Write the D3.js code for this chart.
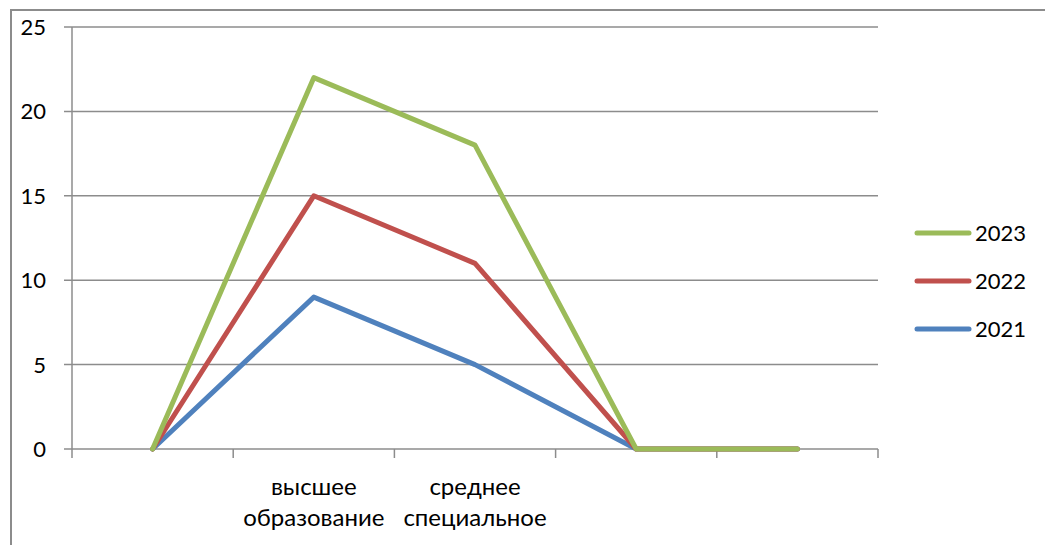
<!DOCTYPE html>
<html>
<head>
<meta charset="utf-8">
<script src="https://d3js.org/d3.v7.min.js"></script>
<style>
  body { margin: 0; background: #fff; }
  text { font-family: Lato, "Open Sans", sans-serif; fill: #000; }
</style>
</head>
<body>
<div id="chart"></div>
<script>
// categories along x (some are empty in the source)
const categories = ["", "высшее образование", "среднее специальное", " ", "  "];
// stacked line series (Excel style), bottom to top
const years = ["2021", "2022", "2023"];
const v2021 = [0, 9, 5, 0, 0];
const v2022 = [0, 6, 6, 0, 0];
const v2023 = [0, 7, 7, 0, 0];
const yTicks = [0, 5, 10, 15, 20, 25];
const colors = { "2021": "#4F81BD", "2022": "#C0504D", "2023": "#9BBB59" };

const W = 1045, H = 545;
const margin = { top: 27, right: 167, bottom: 96, left: 72 };
const width = W - margin.left - margin.right,
      height = H - margin.top - margin.bottom;

const rows = categories.map((c, i) => ({ cat: c, "2021": v2021[i], "2022": v2022[i], "2023": v2023[i] }));
const stacked = d3.stack().keys(years)(rows);

const svg = d3.select("#chart").append("svg")
  .attr("width", W).attr("height", H);

// outer chart frame
svg.append("rect")
  .attr("x", 11).attr("y", 10)
  .attr("width", W + 10).attr("height", H + 10)
  .attr("fill", "none").attr("stroke", "#8c8c8c").attr("stroke-width", 2);

const g = svg.append("g")
  .attr("transform", "translate(" + margin.left + "," + margin.top + ")");

const x = d3.scaleBand().domain(d3.range(categories.length)).range([0, width]);
const y = d3.scaleLinear().domain([0, 25]).range([height, 0]);

// horizontal gridlines + left ticks
g.append("g").selectAll("line")
  .data(yTicks.filter(d => d > 0))
  .enter().append("line")
  .attr("x1", -8).attr("x2", width)
  .attr("y1", d => y(d)).attr("y2", d => y(d))
  .attr("stroke", "#8c8c8c").attr("stroke-width", 1.5);

// y axis
g.append("line")
  .attr("x1", 0).attr("x2", 0).attr("y1", 0).attr("y2", height)
  .attr("stroke", "#8c8c8c").attr("stroke-width", 1.5);
g.append("g").selectAll("text")
  .data(yTicks)
  .enter().append("text")
  .attr("x", -26).attr("y", d => y(d)).attr("dy", "0.36em")
  .attr("text-anchor", "end")
  .style("font-size", "22px")
  .text(d => d);

// x axis
g.append("line")
  .attr("x1", -8).attr("x2", width).attr("y1", height).attr("y2", height)
  .attr("stroke", "#8c8c8c").attr("stroke-width", 1.5);
g.append("g").selectAll("line")
  .data(d3.range(categories.length + 1))
  .enter().append("line")
  .attr("x1", i => i * x.step()).attr("x2", i => i * x.step())
  .attr("y1", height).attr("y2", height + 9)
  .attr("stroke", "#8c8c8c").attr("stroke-width", 1.5);

// category labels, two lines each
const catLabels = g.append("g").selectAll("text")
  .data(categories.map((c, i) => ({ c, i })).filter(d => d.c.trim() !== ""))
  .enter().append("text")
  .attr("text-anchor", "middle")
  .style("font-size", "24px");
catLabels.each(function(d) {
  const words = d.c.split(" ");
  const t = d3.select(this);
  words.forEach((w, k) => {
    t.append("tspan")
      .attr("x", x(d.i) + x.bandwidth() / 2)
      .attr("y", height + 46 + k * 31)
      .text(w);
  });
});

// lines
const line = d3.line()
  .x((d, i) => x(i) + x.bandwidth() / 2)
  .y(d => y(d[1]));

g.append("g").selectAll("path")
  .data(stacked)
  .enter().append("path")
  .attr("d", d => line(d))
  .attr("fill", "none")
  .attr("stroke", d => colors[d.key])
  .attr("stroke-width", 5)
  .attr("stroke-linecap", "round")
  .attr("stroke-linejoin", "round");

// legend (reverse order, top = 2023)
const legend = svg.append("g").attr("transform", "translate(917,233)");
const li = legend.selectAll("g")
  .data(years.slice().reverse())
  .enter().append("g")
  .attr("transform", (d, i) => "translate(0," + i * 48 + ")");
li.append("line")
  .attr("x1", 0).attr("x2", 52).attr("y1", 0).attr("y2", 0)
  .attr("stroke", d => colors[d]).attr("stroke-width", 5)
  .attr("stroke-linecap", "round");
li.append("text")
  .attr("x", 58).attr("y", 0).attr("dy", "0.36em")
  .style("font-size", "22px")
  .text(d => d);
</script>
</body>
</html>
